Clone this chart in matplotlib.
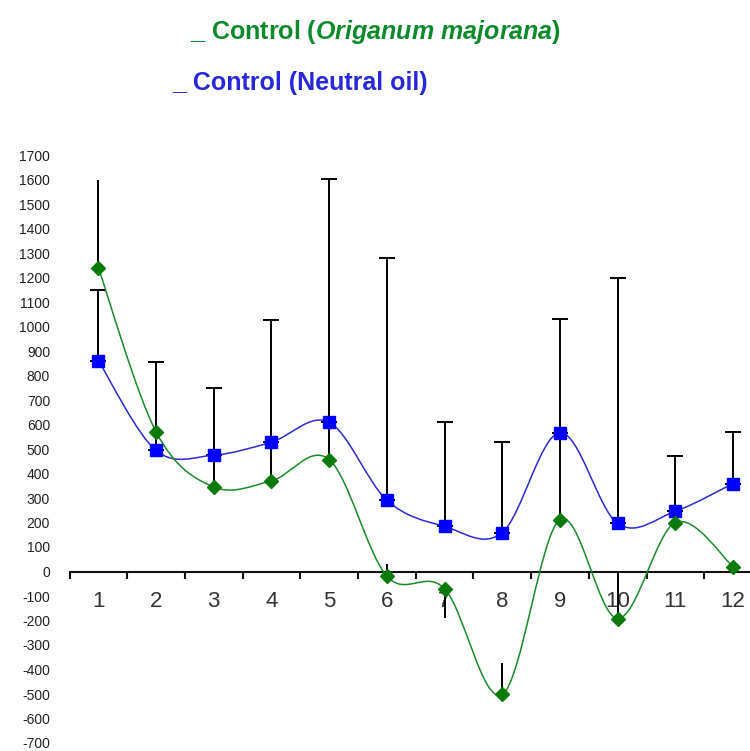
import numpy as np
import matplotlib
matplotlib.use('Agg')
import matplotlib.pyplot as plt
from matplotlib.path import Path
from matplotlib.patches import PathPatch

# ---- data ----
categories = list(range(1, 13))
origanum = [1240, 570, 345, 370, 457, -19, -70, -502, 212, -192, 200, 20]
neutral = [861, 494, 475, 528, 609, 291, 184, 159, 567, 196, 246, 359]
neutral_err_up = [287, 363, 272, 500, 995, 989, 426, 369, 463, 1004, 224, 210]
origanum_err_up = [360, 0, 135, 160, 150, 50, 0, 130, 355, 190, 0, 0]
origanum_err_down = [0, 0, 0, 0, 0, 0, 120, 0, 0, 0, 0, 0]
yticks = list(range(-700, 1800, 100))
legend_origanum = r"_ Control ($\mathbf{\mathit{Origanum\ majorana}}$)"
legend_neutral = "_ Control (Neutral oil)"

plt.rcParams['font.family'] = ['Liberation Sans', 'DejaVu Sans']
plt.rcParams['mathtext.fontset'] = 'custom'
plt.rcParams['mathtext.rm'] = 'Liberation Sans'
plt.rcParams['mathtext.it'] = 'Liberation Sans:italic:bold'
plt.rcParams['mathtext.bf'] = 'Liberation Sans:italic:bold'


def smooth_path(x, y):
    pts = np.column_stack([x, y]).astype(float)
    n = len(pts)
    verts = [pts[0]]
    codes = [Path.MOVETO]
    for i in range(n - 1):
        p0 = pts[i - 1] if i > 0 else pts[i]
        p1 = pts[i]
        p2 = pts[i + 1]
        p3 = pts[i + 2] if i + 2 < n else pts[i + 1]
        c1 = p1 + (p2 - p0) / 6.0
        c2 = p2 - (p3 - p1) / 6.0
        verts += [c1, c2, p2]
        codes += [Path.CURVE4] * 3
    return Path(verts, codes)


fig = plt.figure(figsize=(7.5, 7.51), dpi=100)
ax = fig.add_axes([69.5 / 750, 8 / 751, 1 - 69.5 / 750, 588 / 751])

# error bars
zeros = [0] * len(categories)
ax.errorbar(categories, neutral, yerr=[zeros, neutral_err_up], fmt='none',
            ecolor='black', elinewidth=1.4, capsize=5.5, capthick=1.4, zorder=2)
ax.errorbar(categories, origanum, yerr=[origanum_err_down, origanum_err_up], fmt='none',
            ecolor='black', elinewidth=1.4, capsize=0, zorder=2)

# smoothed lines
ax.add_patch(PathPatch(smooth_path(categories, neutral), facecolor='none',
                       edgecolor='#2a2ad0', lw=1.1, zorder=3))
ax.add_patch(PathPatch(smooth_path(categories, origanum), facecolor='none',
                       edgecolor='#1a8a2a', lw=1.1, zorder=3))

# markers
ax.plot(categories, neutral, linestyle='none', marker='s', markersize=9,
        color='#0000ff', zorder=4)
ax.plot(categories, origanum, linestyle='none', marker='D', markersize=7,
        color='#0a7a0a', zorder=4)

# axes styling
for s in ['top', 'right', 'left']:
    ax.spines[s].set_visible(False)
ax.spines['bottom'].set_position(('data', 0))
ax.spines['bottom'].set_linewidth(1.5)
ax.spines['bottom'].set_color('#111111')

ax.set_xticks(categories)
ax.set_xticklabels([str(c) for c in categories], fontsize=16, color='#333333')
ax.set_xticks([c - 0.5 for c in categories], minor=True)
ax.tick_params(axis='x', which='major', length=0, pad=14)
ax.tick_params(axis='x', which='minor', length=5, width=1.5, color='#111111', direction='out')

ax.set_yticks(yticks)
ax.set_yticklabels([str(v) for v in yticks], fontsize=10, color='#222222')
ax.tick_params(axis='y', length=0, pad=14)

ax.set_xlim(0.5, 0.5 + (750 - 69.5) / 57.7)
ax.set_ylim(-700, 1700)

# legend text
fig.text(190 / 750, 1 - 32 / 751, legend_origanum, color='#0b8a2b', fontsize=18,
         fontweight='bold', ha='left', va='center')
fig.text(172 / 750, 1 - 83 / 751, legend_neutral, color='#2828d8', fontsize=18,
         fontweight='bold', ha='left', va='center')

fig.savefig('out.png', dpi=100)
